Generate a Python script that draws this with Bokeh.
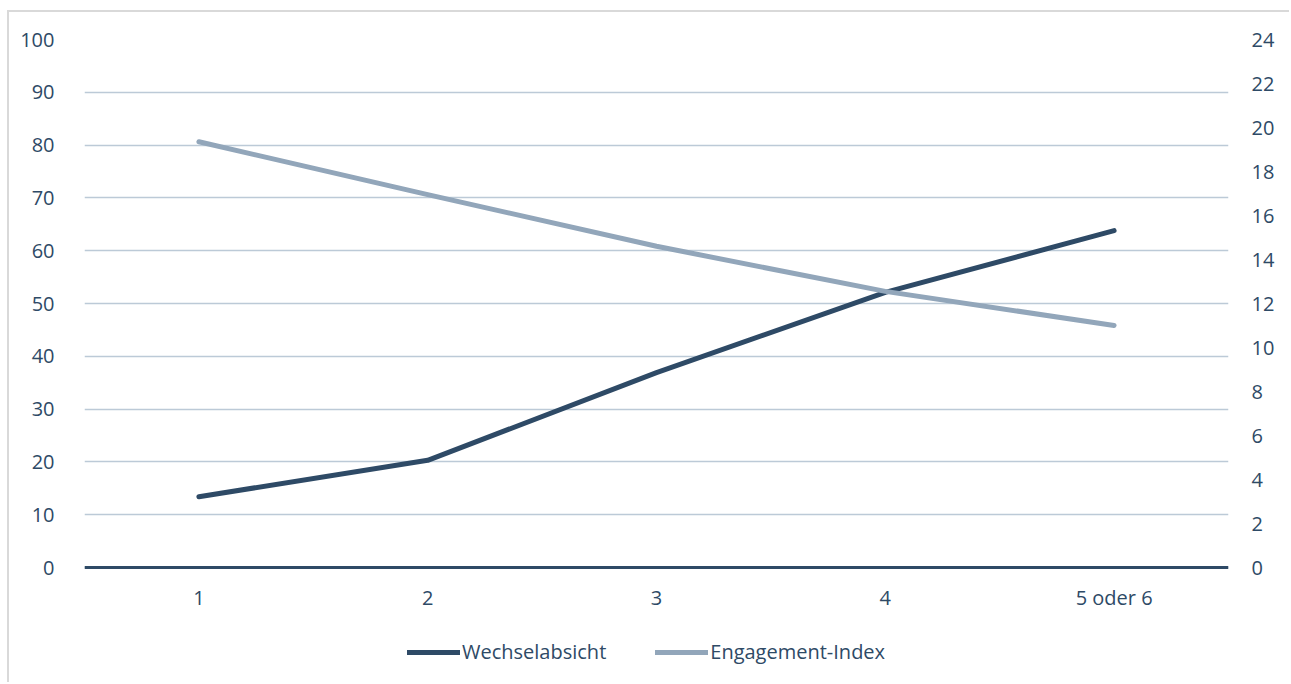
from bokeh.plotting import figure
from bokeh.models import FactorRange, Range1d, LinearAxis, Legend, LegendItem, FixedTicker, Span
from bokeh.core.properties import value
from bokeh.embed import file_html
from bokeh.resources import INLINE

categories = ["1", "2", "3", "4", "5 oder 6"]
wechselabsicht = [13.4, 20.3, 36.9, 52.1, 63.8]
engagement_index = [19.35, 16.95, 14.6, 12.55, 11.0]
left_ticks = [0, 10, 20, 30, 40, 50, 60, 70, 80, 90, 100]
right_ticks = [0, 2, 4, 6, 8, 10, 12, 14, 16, 18, 20, 22, 24]

DARK = "#2e4a66"
LIGHT = "#92a6ba"
GRID = "#bccad7"
TEXT = "#2e4a66"
FONT = "Open Sans"
FS = "20px"

# frame extends below the zero line to hold the category labels and legend
LEFT_MIN = -117 / 5.28
RIGHT_MIN = LEFT_MIN * 24 / 100

p = figure(x_range=FactorRange(factors=categories), y_range=Range1d(LEFT_MIN, 100),
           width=1282, height=672, x_axis_location=None,
           min_border_left=75, min_border_top=27, min_border_right=63, min_border_bottom=0,
           output_backend="svg", toolbar_location=None)
p.margin = (10, 0, 0, 7)
p.styles = {"border-left": "2px solid #d9d9d9", "border-top": "2px solid #d9d9d9"}
p.outline_line_color = None
p.background_fill_color = "white"
p.border_fill_color = "white"

p.extra_y_ranges = {"right": Range1d(RIGHT_MIN, 24)}

p.xgrid.grid_line_color = None
p.ygrid.grid_line_color = GRID
p.ygrid.grid_line_width = 1.5
p.ygrid.ticker = FixedTicker(ticks=left_ticks)

p.add_layout(Span(location=0, dimension="width", line_color=DARK, line_width=3))

r1 = p.line(x=categories, y=wechselabsicht, line_color=DARK, line_width=5, line_cap="round", line_join="round")
r2 = p.line(x=categories, y=engagement_index, line_color=LIGHT, line_width=5, line_cap="round", line_join="round",
            y_range_name="right")

p.text(x=categories, y=[0] * len(categories), text=categories, y_offset=30,
       text_align="center", text_baseline="middle", text_font=value(FONT),
       text_font_size=FS, text_color=TEXT)

p.yaxis.ticker = FixedTicker(ticks=left_ticks)
ra = LinearAxis(y_range_name="right", ticker=FixedTicker(ticks=right_ticks))
p.add_layout(ra, "right")

for ax, so in [(p.yaxis[0], 24), (ra, 17)]:
    ax.axis_line_color = None
    ax.major_tick_line_color = None
    ax.minor_tick_line_color = None
    ax.major_label_text_font = FONT
    ax.major_label_text_font_size = FS
    ax.major_label_text_color = TEXT
    ax.major_label_standoff = so

legend = Legend(items=[LegendItem(label="Wechselabsicht", renderers=[r1]),
                       LegendItem(label="Engagement-Index", renderers=[r2])],
                orientation="horizontal", location=(323, 19),
                glyph_width=53, glyph_height=22, label_standoff=2, spacing=49,
                padding=0, margin=0, border_line_color=None, background_fill_alpha=0,
                label_text_font=FONT, label_text_font_size=FS, label_text_color=TEXT)
p.add_layout(legend, "center")

open("out.html", "w").write(file_html(p, INLINE))
